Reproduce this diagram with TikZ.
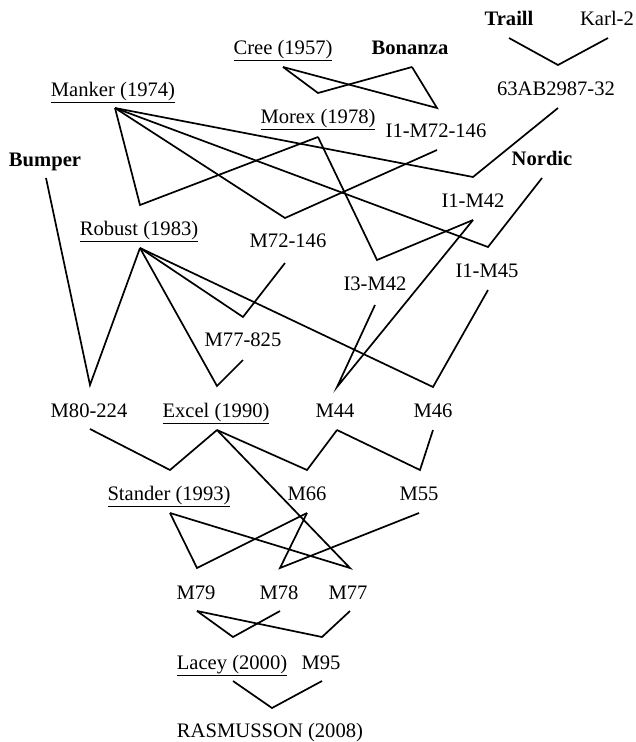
\documentclass[tikz,border=0pt]{standalone}
\usepackage{fontspec}
\setmainfont{Liberation Serif}
\begin{document}
\begin{tikzpicture}[x=1pt,y=-1pt,
  lbl/.style={anchor=base,inner sep=0pt,font=\fontsize{20.6}{24}\selectfont},
  link/.style={line width=1.7pt,line join=miter}]
\useasboundingbox (0,0) rectangle (635,742);
% labels (x, baseline)
\node[lbl] (traill) at (509,25) {\textbf{Traill}};
\node[lbl] (karl) at (607,25) {Karl-2};
\node[lbl] (ab) at (556,95) {63AB2987-32};
\node[lbl] (cree) at (283,54) {\underline{Cree (1957)}};
\node[lbl] (bonanza) at (410,54) {\textbf{Bonanza}};
\node[lbl] (manker) at (113,96) {\underline{Manker (1974)}};
\node[lbl] (morex) at (318,123) {\underline{Morex (1978)}};
\node[lbl] (i1m72) at (436,137) {I1-M72-146};
\node[lbl] (bumper) at (45,166) {\textbf{Bumper}};
\node[lbl] (nordic) at (542,165) {\textbf{Nordic}};
\node[lbl] (i1m42) at (473,207) {I1-M42};
\node[lbl] (robust) at (139,235) {\underline{Robust (1983)}};
\node[lbl] (m72) at (288,247) {M72-146};
\node[lbl] (i3m42) at (375,290) {I3-M42};
\node[lbl] (i1m45) at (487,277) {I1-M45};
\node[lbl] (m77825) at (243,346) {M77-825};
\node[lbl] (m80) at (89,417) {M80-224};
\node[lbl] (excel) at (216,417) {\underline{Excel (1990)}};
\node[lbl] (m44) at (335,417) {M44};
\node[lbl] (m46) at (433,417) {M46};
\node[lbl] (stander) at (169,500) {\underline{Stander (1993)}};
\node[lbl] (m66) at (307,500) {M66};
\node[lbl] (m55) at (419,500) {M55};
\node[lbl] (m79) at (196,599) {M79};
\node[lbl] (m78) at (279,599) {M78};
\node[lbl] (m77) at (348,599) {M77};
\node[lbl] (lacey) at (232,669) {\underline{Lacey (2000)}};
\node[lbl] (m95) at (321,669) {M95};
\node[lbl] (ras) at (270,737) {RASMUSSON (2008)};
% line ends below parents
\coordinate (traill-b) at (509,38);
\coordinate (karl-b) at (608,38);
\coordinate (ab-v) at (558,65);
\coordinate (ab-b) at (558,108);
\coordinate (cree-b) at (283,67);
\coordinate (bonanza-b) at (412,67);
\coordinate (morex-v) at (318,93);
\coordinate (i1m72-v) at (437,108);
\coordinate (manker-b) at (115,108);
\coordinate (morex-b) at (318,137);
\coordinate (i1m72-b) at (437,150);
\coordinate (bumper-b) at (46,178);
\coordinate (nordic-b) at (542,178);
\coordinate (i1m42-v) at (473,177);
\coordinate (i1m42-b) at (473,220);
\coordinate (robust-v) at (140,205);
\coordinate (robust-b) at (140,248);
\coordinate (m72-v) at (285,218);
\coordinate (m72-b) at (285,263);
\coordinate (i3m42-v) at (377,260);
\coordinate (i3m42-b) at (375,305);
\coordinate (i1m45-v) at (488,247);
\coordinate (i1m45-b) at (488,290);
\coordinate (m77825-v) at (243,317);
\coordinate (m77825-b) at (243,360);
\coordinate (m80-v) at (90,385);
\coordinate (excel-v) at (217,386);
\coordinate (m44-v) at (337,387);
\coordinate (m46-v) at (433,387);
\coordinate (m80-b) at (90,429);
\coordinate (excel-b) at (217,430);
\coordinate (m44-b) at (337,430);
\coordinate (m46-b) at (433,430);
\coordinate (stander-v) at (170,470);
\coordinate (m66-v) at (307,470);
\coordinate (m55-v) at (420,470);
\coordinate (stander-b) at (170,513);
\coordinate (m66-b) at (307,513);
\coordinate (m55-b) at (419,513);
\coordinate (m79-v) at (197,568);
\coordinate (m78-v) at (280,568);
\coordinate (m77-v) at (350,568);
\coordinate (m79-b) at (197,611);
\coordinate (m78-b) at (280,611);
\coordinate (m77-b) at (350,611);
\coordinate (lacey-v) at (233,637);
\coordinate (m95-v) at (322,637);
\coordinate (lacey-b) at (233,681);
\coordinate (m95-b) at (322,681);
\coordinate (ras-v) at (272,708);
% connectors
\draw[link] (traill-b) -- (ab-v) -- (karl-b);
\draw[link] (cree-b) -- (morex-v) -- (bonanza-b);
\draw[link] (cree-b) -- (i1m72-v) -- (bonanza-b);
\draw[link] (manker-b) -- (robust-v) -- (morex-b);
\draw[link] (manker-b) -- (m72-v) -- (i1m72-b);
\draw[link] (manker-b) -- (i1m45-v) -- (nordic-b);
\draw[link] (manker-b) -- (i1m42-v) -- (ab-b);
\draw[link] (morex-b) -- (i3m42-v) -- (i1m42-b);
\draw[link] (i3m42-b) -- (m44-v) -- (i1m42-b);
\draw[link] (bumper-b) -- (m80-v) -- (robust-b);
\draw[link] (robust-b) -- (excel-v) -- (m77825-b);
\draw[link] (robust-b) -- (m77825-v) -- (m72-b);
\draw[link] (robust-b) -- (m46-v) -- (i1m45-b);
\draw[link] (m80-b) -- (stander-v) -- (excel-b);
\draw[link] (excel-b) -- (m66-v) -- (m44-b);
\draw[link] (m44-b) -- (m55-v) -- (m46-b);
\draw[link] (stander-b) -- (m79-v) -- (m66-b);
\draw[link] (m66-b) -- (m78-v) -- (m55-b);
\draw[link] (stander-b) -- (m77-v) -- (excel-b);
\draw[link] (m79-b) -- (lacey-v) -- (m78-b);
\draw[link] (m79-b) -- (m95-v) -- (m77-b);
\draw[link] (lacey-b) -- (ras-v) -- (m95-b);
\end{tikzpicture}
\end{document}
